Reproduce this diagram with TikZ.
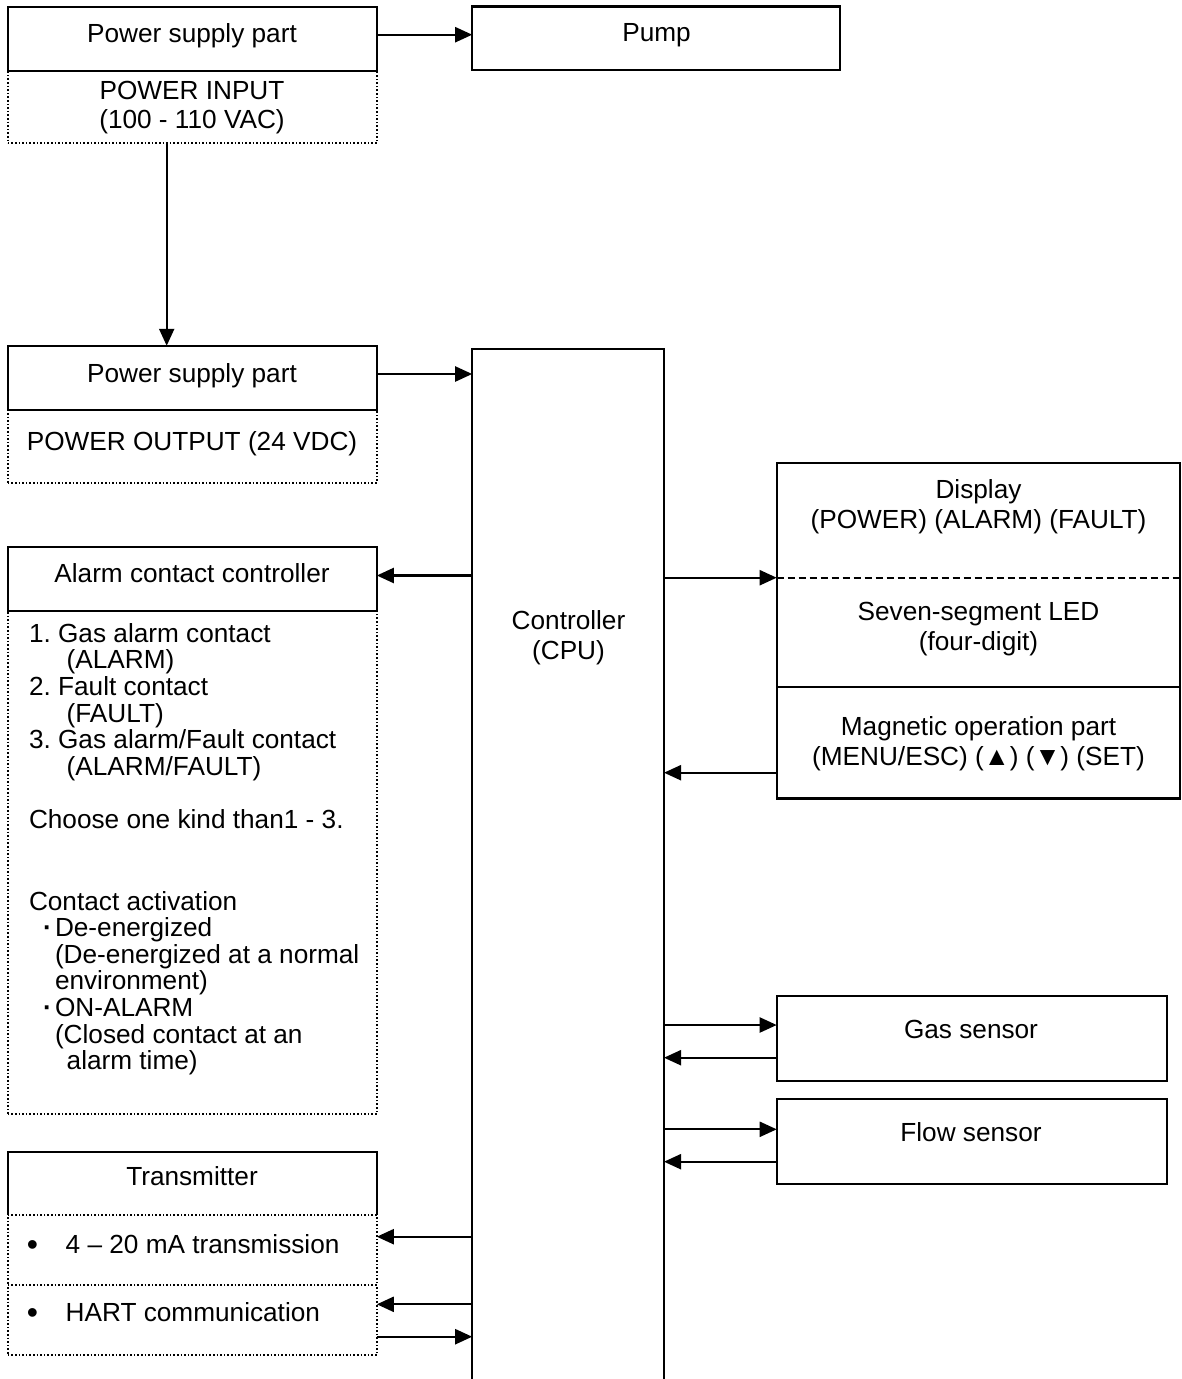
\documentclass[tikz,border=0pt]{standalone}
\usepackage{fontspec}
\setmainfont{Liberation Sans}
\usetikzlibrary{arrows.meta}
\begin{document}
\frenchspacing
\begin{tikzpicture}[x=1pt,y=-1pt,
  every node/.style={font=\fontsize{26.2}{27}\selectfont, inner sep=0pt, outer sep=0pt},
  solidbox/.style={draw, line width=2.2pt, rectangle},
  dotbox/.style={draw, line width=1.6pt, dotted, rectangle},
  arr/.style={line width=2.2pt, -{Triangle[length=17pt,width=15pt]}},
  lbl/.style={anchor=base},
  lblw/.style={anchor=base west},
  bullet/.style={anchor=base west, font=\fontsize{32}{32}\selectfont}
]
\useasboundingbox (0,0) rectangle (1181,1379);

% ---------- Power supply (input) ----------
\node[dotbox, minimum width=369pt, minimum height=72pt] (ps1low) at (192.3,107.2) {};
\node[solidbox, minimum width=369pt, minimum height=64.3pt] (ps1) at (192.3,38.9) {};
\node[lbl] (ps1t) at (192,42.7) {Power supply part};
\node[lbl] (ps1a) at (192,99) {POWER INPUT};
\node[lbl] (ps1b) at (192,128.5) {(100 - 110 VAC)};

% ---------- Pump ----------
\node[solidbox, minimum width=368pt, minimum height=63.5pt] (pump) at (656.2,38.3) {};
\node[lbl] (pumpt) at (656.5,41.7) {Pump};

% ---------- Power supply (output) ----------
\node[dotbox, minimum width=369pt, minimum height=72.7pt] (ps2low) at (192.3,446.4) {};
\node[solidbox, minimum width=369pt, minimum height=64.3pt] (ps2) at (192.3,377.9) {};
\node[lbl] (ps2t) at (192,382.7) {Power supply part};
\node[lbl] (ps2a) at (192,450.7) {POWER OUTPUT (24 VDC)};

% ---------- Controller (open at the bottom) ----------
\coordinate (cpuNW) at (472.2,349.3);
\coordinate (cpuNE) at (664,349.3);
\coordinate (cpuSW) at (472.2,1381);
\coordinate (cpuSE) at (664,1381);
\draw[line width=2.2pt] (cpuSW) -- (cpuNW) -- (cpuNE) -- (cpuSE);
\node[lbl] (cpu1) at (568.5,629) {Controller};
\node[lbl] (cpu2) at (568.5,659) {(CPU)};

% ---------- Alarm contact controller ----------
\node[dotbox, minimum width=369pt, minimum height=503pt] (alarmlow) at (192.3,862.5) {};
\node[solidbox, minimum width=369pt, minimum height=64pt] (alarm) at (192.3,579) {};
\node[lbl] (alarmt) at (192,582.3) {Alarm contact controller};
\node[lblw] (al1) at (29,642.3) {1. Gas alarm contact};
\node[lblw] (al2) at (66.7,668.9) {(ALARM)};
\node[lblw] (al3) at (29,695.5) {2. Fault contact};
\node[lblw] (al4) at (66.7,722.1) {(FAULT)};
\node[lblw] (al5) at (29,748.7) {3. Gas alarm/Fault contact};
\node[lblw] (al6) at (66.7,775.3) {(ALARM/FAULT)};
\node[lblw] (al7) at (29,828.3) {Choose one kind than1 - 3.};
\node[lblw] (al8) at (29,910) {Contact activation};
\node[lblw] (al9d) at (43,936.6) {\textbf{·}};
\node[lblw] (al9) at (55,936.6) {De-energized};
\node[lblw] (al10) at (55,963.2) {(De-energized at a normal};
\node[lblw] (al11) at (55,989.8) {environment)};
\node[lblw] (al12d) at (43,1016.4) {\textbf{·}};
\node[lblw] (al12) at (55,1016.4) {ON-ALARM};
\node[lblw] (al13) at (55,1043) {(Closed contact at an};
\node[lblw] (al14) at (66.7,1069.6) {alarm time)};

% ---------- Transmitter ----------
\node[rectangle, minimum width=369pt, minimum height=63.5pt] (tx) at (192.3,1183.5) {};
\draw[line width=2.2pt] (tx.south west) -- (tx.north west) -- (tx.north east) -- (tx.south east);
\node[dotbox, minimum width=369pt, minimum height=70pt] (tx1) at (192.3,1250.2) {};
\node[dotbox, minimum width=369pt, minimum height=70pt] (tx2) at (192.3,1320.2) {};
\node[lbl] (txt) at (192,1185.7) {Transmitter};
\node[bullet] (tx1b) at (27,1255.5) {•};
\node[lblw] (tx1t) at (65.7,1253.3) {4 – 20 mA transmission};
\node[bullet] (tx2b) at (27,1323.5) {•};
\node[lblw] (tx2t) at (65.7,1321.7) {HART communication};

% ---------- Display / Magnetic operation part ----------
\node[solidbox, minimum width=403.5pt, minimum height=223.5pt] (disp) at (978.4,575.1) {};
\node[solidbox, minimum width=403.5pt, minimum height=111.7pt] (mag) at (978.4,742.6) {};
\coordinate (dashL) at (776.7,577.7);
\coordinate (dashR) at (1180.2,577.7);
\draw[line width=1.8pt, dash pattern=on 7pt off 4pt] (dashL) -- (dashR);
\node[lbl] (d1) at (978.5,498.3) {Display};
\node[lbl] (d2) at (978.5,528.8) {(POWER) (ALARM) (FAULT)};
\node[lbl] (d3) at (978.5,620.7) {Seven-segment LED};
\node[lbl] (d4) at (978.5,650.3) {(four-digit)};
\node[lbl] (m1) at (978.5,735) {Magnetic operation part};
\node[lbl] (m2) at (978.5,765) {(MENU/ESC) (▲) (▼) (SET)};

% ---------- Sensors ----------
\node[solidbox, minimum width=390pt, minimum height=84.7pt] (gas) at (971.7,1038.3) {};
\node[lbl] (gast) at (971,1038.3) {Gas sensor};
\node[solidbox, minimum width=390pt, minimum height=85pt] (flow) at (971.7,1141.8) {};
\node[lbl] (flowt) at (971,1141.7) {Flow sensor};

% ---------- Connectors ----------
\draw[arr] (ps1.east |- 0,34.7) -- (pump.west |- 0,34.7);
\draw[arr] (ps1low.south -| 166.7,0) -- (ps2.north -| 166.7,0);
\draw[arr] (ps2.east |- 0,374) -- (cpuNW |- 0,374);
\draw[arr] (cpuNW |- 0,575.5) -- (alarm.east |- 0,575.5);
\draw[arr] (cpuNE |- dashL) -- (dashL);
\draw[arr] (mag.west |- 0,772.7) -- (cpuNE |- 0,772.7);
\draw[arr] (cpuNE |- 0,1025) -- (gas.west |- 0,1025);
\draw[arr] (gas.west |- 0,1057.7) -- (cpuNE |- 0,1057.7);
\draw[arr] (cpuNE |- 0,1129.3) -- (flow.west |- 0,1129.3);
\draw[arr] (flow.west |- 0,1161.7) -- (cpuNE |- 0,1161.7);
\draw[arr] (cpuNW |- 0,1236.7) -- (tx1.east |- 0,1236.7);
\draw[arr] (cpuNW |- 0,1304.3) -- (tx2.east |- 0,1304.3);
\draw[arr] (tx2.east |- 0,1336.7) -- (cpuNW |- 0,1336.7);
\end{tikzpicture}
\end{document}
